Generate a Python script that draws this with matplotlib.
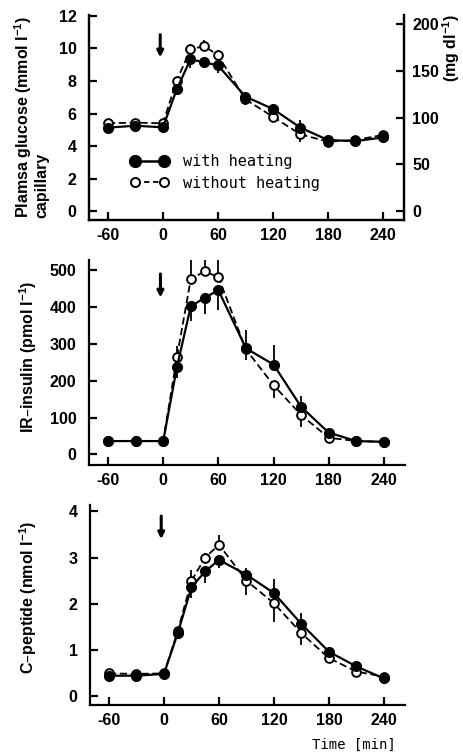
import matplotlib
matplotlib.use("Agg")
import matplotlib.pyplot as plt
from matplotlib.lines import Line2D

plt.rcParams["font.family"] = ["Liberation Sans", "DejaVu Sans"]
plt.rcParams["font.weight"] = "bold"
plt.rcParams["mathtext.default"] = "regular"
plt.rcParams["axes.unicode_minus"] = False

# ---- data ----
time_min = [-60, -30, 0, 15, 30, 45, 60, 90, 120, 150, 180, 210, 240]

glucose_heat = [5.13, 5.25, 5.15, 7.49, 9.33, 9.15, 8.96, 7.04, 6.28, 5.13, 4.37, 4.30, 4.53]
glucose_heat_dn = [0.1, 0.1, 0.1, 0.2, 0.5, 0.35, 0.45, 0.5, 0, 0, 0.4, 0.1, 0.1]
glucose_heat_up = [0, 0, 0, 0, 0, 0, 0, 0, 0.3, 0.5, 0, 0, 0]
glucose_noheat = [5.40, 5.44, 5.40, 8.02, 9.95, 10.15, 9.58, 6.87, 5.80, 4.72, 4.27, 4.37, 4.68]
glucose_noheat_up = [0.1, 0.1, 0.1, 0.2, 0.35, 0.35, 0.3, 0, 0, 0, 0, 0.1, 0.1]
glucose_noheat_dn = [0, 0, 0, 0, 0, 0, 0, 0.3, 0.3, 0.45, 0.1, 0, 0]

insulin_heat = [36, 36, 36, 238, 402, 425, 446, 288, 244, 129, 59, 36, 34]
insulin_heat_dn = [5, 5, 5, 30, 40, 43, 55, 0, 0, 0, 0, 3, 3]
insulin_heat_up = [0, 0, 0, 0, 0, 0, 0, 50, 53, 30, 10, 0, 0]
insulin_noheat = [36, 36, 36, 265, 476, 497, 482, 285, 188, 107, 45, 36, 34]
insulin_noheat_up = [5, 5, 5, 30, 100, 70, 45, 0, 0, 0, 0, 3, 3]
insulin_noheat_dn = [0, 0, 0, 0, 0, 0, 0, 30, 36, 32, 8, 0, 0]

cpep_heat = [0.44, 0.44, 0.48, 1.36, 2.36, 2.70, 2.95, 2.63, 2.23, 1.56, 0.96, 0.64, 0.38]
cpep_heat_dn = [0.03, 0.03, 0.03, 0.1, 0.24, 0.25, 0.18, 0, 0, 0, 0, 0, 0.03]
cpep_heat_up = [0, 0, 0, 0, 0, 0, 0, 0.14, 0.3, 0.23, 0.1, 0.05, 0]
cpep_noheat = [0.49, 0.48, 0.49, 1.40, 2.50, 3.00, 3.28, 2.50, 2.01, 1.36, 0.82, 0.53, 0.42]
cpep_noheat_up = [0.03, 0.03, 0.03, 0.1, 0.23, 0.11, 0.22, 0, 0, 0, 0, 0, 0]
cpep_noheat_dn = [0, 0, 0, 0, 0, 0, 0, 0.31, 0.4, 0.26, 0.1, 0.05, 0.03]

x_ticks = [-60, 0, 60, 120, 180, 240]
mgdl_per_mmol = 17.4   # as drawn on the right-hand axis

W, H = 463, 755
fig = plt.figure(figsize=(W / 100, H / 100), dpi=100)


def px_axes(left, top, right, bottom):
    return fig.add_axes([left / W, 1 - bottom / H, (right - left) / W, (bottom - top) / H])


def style(ax, ylim, yticks, right=False):
    ax.set_xlim(-80.7, 263)
    ax.set_ylim(*ylim)
    ax.set_xticks(x_ticks)
    ax.set_yticks(yticks)
    ax.spines["top"].set_visible(False)
    ax.spines["right"].set_visible(right)
    for s in ax.spines.values():
        s.set_linewidth(1.6)
    ax.tick_params(direction="in", length=6, width=1.6, labelsize=11.5)
    ax.tick_params(axis="y", pad=9)
    ax.tick_params(axis="x", pad=6)


def draw(ax, yh, yh_dn, yh_up, yn, yn_dn, yn_up):
    ax.errorbar(time_min, yn, yerr=[yn_dn, yn_up], fmt="o--", color="black",
                mfc="white", mec="black", ms=6.3, mew=1.4, lw=1.3, elinewidth=1.3,
                capsize=0, dashes=(4, 2), zorder=3)
    ax.errorbar(time_min, yh, yerr=[yh_dn, yh_up], fmt="o-", color="black",
                mfc="black", mec="black", ms=7, lw=1.6, elinewidth=1.3,
                capsize=0, zorder=4)


def arrow(ax, y0, y1):
    ax.annotate("", xy=(-3, y1), xytext=(-3, y0),
                arrowprops=dict(arrowstyle="-|>", lw=2.2, color="black",
                                mutation_scale=9, shrinkA=0, shrinkB=0))


# ---- glucose ----
ax1 = px_axes(89, 15, 404, 220)
style(ax1, (-0.55, 12.06), [0, 2, 4, 6, 8, 10, 12], right=True)
draw(ax1, glucose_heat, glucose_heat_dn, glucose_heat_up,
     glucose_noheat, glucose_noheat_dn, glucose_noheat_up)
arrow(ax1, 10.85, 9.45)
ax1r = ax1.twinx()
ax1r.set_ylim(-0.55 * mgdl_per_mmol, 12.06 * mgdl_per_mmol)
ax1r.set_yticks([0, 50, 100, 150, 200])
ax1r.spines["top"].set_visible(False)
for s in ax1r.spines.values():
    s.set_linewidth(1.6)
ax1r.tick_params(direction="in", length=6, width=1.6, labelsize=11.5, pad=6)

leg_handles = [
    Line2D([], [], color="black", lw=1.8, marker="o", ms=8.5, mfc="black"),
    Line2D([], [], color="black", lw=1.3, ls=(0, (3, 2)), marker="o", ms=6.5,
           mfc="white", mew=1.4),
]
ax1.legend(leg_handles, ["with heating", "without heating"], loc="upper left",
           bbox_to_anchor=(0.13, 0.32), frameon=False, numpoints=2,
           handlelength=2.5, handletextpad=1.0, labelspacing=0.4,
           borderpad=0, borderaxespad=0,
           prop=dict(family="DejaVu Sans Mono", size=11, weight="normal"))

# ---- insulin ----
ax2 = px_axes(89, 260, 405, 465)
style(ax2, (-29, 528), [0, 100, 200, 300, 400, 500])
draw(ax2, insulin_heat, insulin_heat_dn, insulin_heat_up,
     insulin_noheat, insulin_noheat_dn, insulin_noheat_up)
arrow(ax2, 490, 426)

# ---- C-peptide ----
ax3 = px_axes(90, 505, 405, 705)
style(ax3, (-0.195, 4.14), [0, 1, 2, 3, 4])
draw(ax3, cpep_heat, cpep_heat_dn, cpep_heat_up,
     cpep_noheat, cpep_noheat_dn, cpep_noheat_up)
arrow(ax3, 3.9, 3.4)

# ---- labels ----
fig.text(31 / W, 1 - 218 / H, "Plamsa glucose (mmol l$^{-1}$)\ncapillary",
         rotation=90, ha="center", va="bottom", multialignment="left",
         fontsize=11.5, linespacing=1.0)
fig.text(451 / W, 1 - 48 / H, "(mg dl$^{-1}$)", rotation=90,
         ha="center", va="center", fontsize=11.5)
fig.text(28 / W, 1 - 357 / H, "IR\u2013insulin (pmol l$^{-1}$)", rotation=90,
         ha="center", va="center", fontsize=11.5)
fig.text(28 / W, 1 - 597 / H, "C\u2013peptide (nmol l$^{-1}$)", rotation=90,
         ha="center", va="center", fontsize=11.5)
fig.text(396 / W, 1 - 745 / H, "Time [min]", ha="right", va="center",
         family="DejaVu Sans Mono", fontsize=10, weight="normal")

fig.savefig("out.png", dpi=100)
